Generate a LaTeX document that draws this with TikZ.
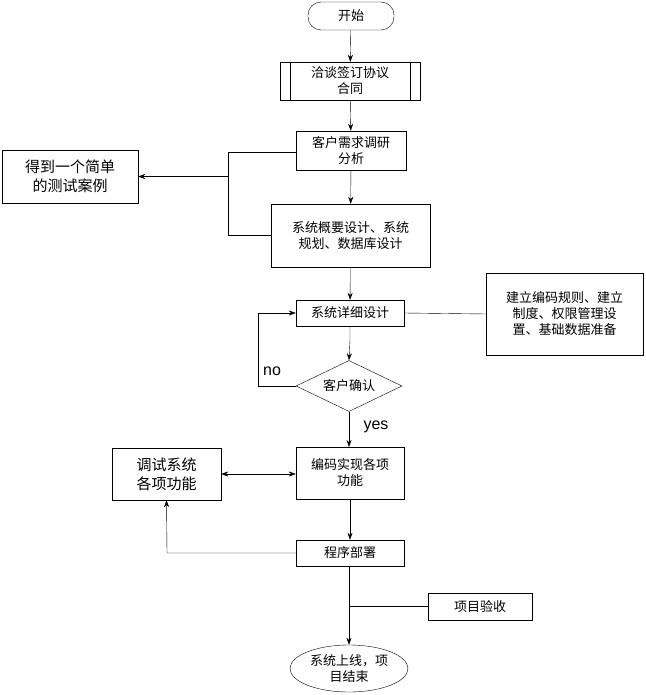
\documentclass[tikz,border=0pt]{standalone}
\usepackage{fontspec}
\setmainfont{Noto Sans CJK SC}
\usetikzlibrary{shapes.geometric,arrows.meta}
\begin{document}
\begin{tikzpicture}[x=1pt,y=-1pt,
  box/.style={draw,thin,align=center,font=\fontsize{13}{16}\selectfont,inner sep=0pt},
  lnk/.style={draw,thin},
  arr/.style={thin,-{Stealth[length=7pt,width=5pt]}}]
\useasboundingbox (0,0) rectangle (645,695);
\node[box,rounded corners=13pt,minimum width=86pt,minimum height=28pt] (start) at (351,16) {开始};
\node[box,minimum width=140pt,minimum height=38pt] (neg) at (350,81) {洽谈签订协议\\合同};
\draw (290,62) -- (290,100) (410,62) -- (410,100);
\node[box,minimum width=110pt,minimum height=39pt] (req) at (351,150.5) {客户需求调研\\分析};
\node[box,minimum width=136pt,minimum height=53pt,font=\fontsize{15}{19}\selectfont] (test) at (70,176.5) {得到一个简单\\的测试案例};
\node[box,minimum width=159pt,minimum height=63pt] (outline) at (350.5,235.5) {系统概要设计、系统\\规划、数据库设计};
\node[box,minimum width=108pt,minimum height=26pt] (detail) at (350,313) {系统详细设计};
\node[box,minimum width=157pt,minimum height=82pt] (rule) at (564.5,314) {建立编码规则、建立\\制度、权限管理设\\置、基础数据准备};
\node[box,diamond,aspect=2.1,minimum width=106pt,minimum height=51pt] (conf) at (349,386) {客户确认};
\node[box,minimum width=108pt,minimum height=52pt] (code) at (350,473) {编码实现各项\\功能};
\node[box,minimum width=109pt,minimum height=52pt,font=\fontsize{15}{19}\selectfont] (debug) at (166.5,474) {调试系统\\各项功能};
\node[box,minimum width=108pt,minimum height=26pt] (deploy) at (350,553) {程序部署};
\node[box,minimum width=104pt,minimum height=27pt] (accept) at (480,606.5) {项目验收};
\node[box,ellipse,minimum width=118pt,minimum height=47pt,inner sep=0pt] (end) at (349,668.5) {系统上线，项\\目结束};
\node[font=\fontsize{16}{18}\selectfont\fontspec{Liberation Sans}] (no) at (272,371) {no};
\node[font=\fontsize{16}{18}\selectfont\fontspec{Liberation Sans}] (yes) at (376,427) {yes};
\coordinate (t1) at (228,152);
\coordinate (t2) at (228,235.5);
\coordinate (t3) at (228,176.5);
\coordinate (n1) at (258,386);
\coordinate (n2) at (258,313);
\coordinate (d1) at (167,553);
\coordinate (a1) at (349,606.5);
\draw[arr] (start) -- (neg);
\draw[arr] (neg) -- (req);
\draw[arr] (req) -- (outline);
\draw[lnk] (req.west |- t1) -- (t1) -- (t2) -- (outline.west);
\draw[arr] (t3) -- (test.east);
\draw[arr] (outline) -- (detail);
\draw[lnk] (detail.east) -- (rule.west);
\draw[arr] (detail.south) -- (350,340) -- (conf.north);
\draw[arr] (conf.west) -- (n1) -- (n2) -- (detail.west);
\draw[arr] (conf.south) -- (349,447);
\draw[{Stealth[length=7pt,width=5pt]}-{Stealth[length=7pt,width=5pt]},thin] (debug.east) -- (code.west |- debug.east);
\draw[arr] (code) -- (deploy);
\draw[arr] (deploy.west) -- (d1) -- (debug.south);
\draw[arr] (349,566) -- (end.north);
\draw[lnk] (accept.west) -- (a1);
\end{tikzpicture}
\end{document}
